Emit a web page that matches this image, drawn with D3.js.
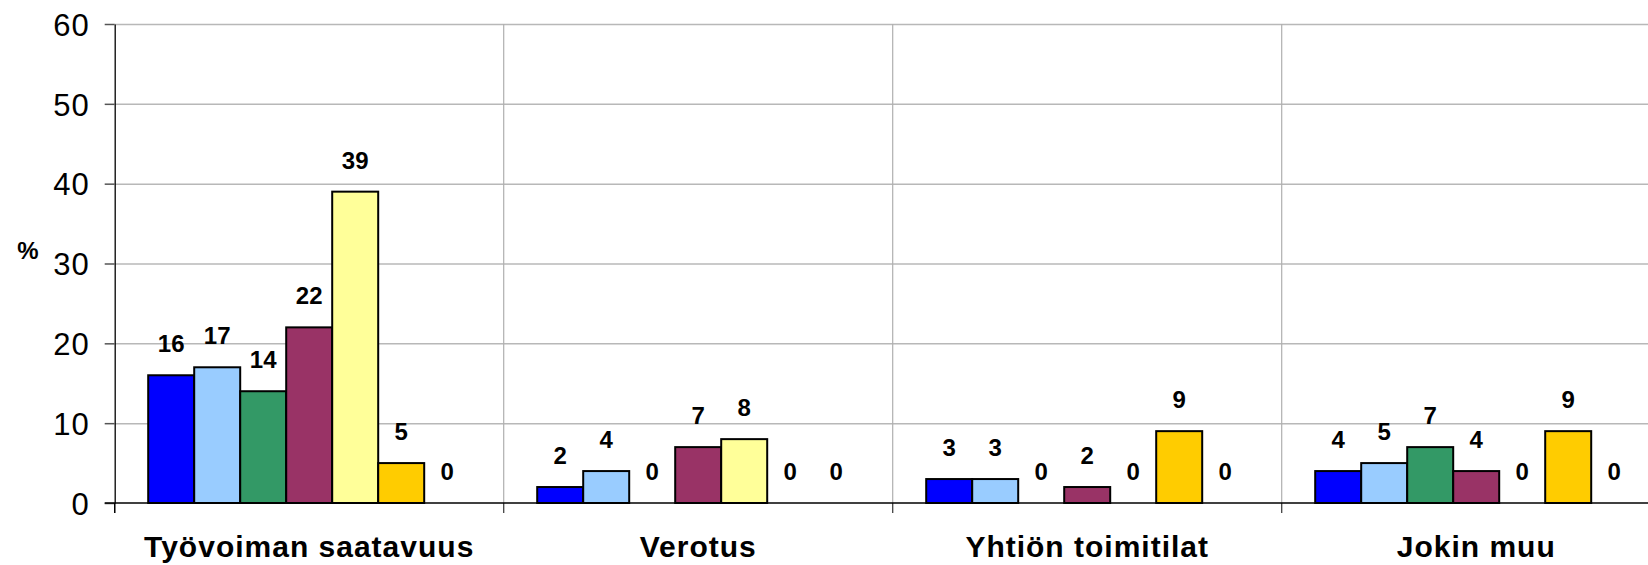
<!DOCTYPE html>
<html>
<head>
<meta charset="utf-8">
<script src="https://cdn.jsdelivr.net/npm/d3@7"></script>
<style>
  html, body { margin: 0; padding: 0; background: #fff; }
  svg { display: block; }
  text { font-family: "Liberation Sans", Arial, sans-serif; fill: #000; }
</style>
</head>
<body>
<svg id="chart" width="1648" height="565"></svg>
<script>
const categories = ["Työvoiman saatavuus", "Verotus", "Yhtiön toimitilat", "Jokin muu"];
const seriesNames = ["Sarja 1", "Sarja 2", "Sarja 3", "Sarja 4", "Sarja 5", "Sarja 6", "Sarja 7"];
const seriesColors = ["#0000FF", "#99CCFF", "#339966", "#993366", "#FFFF99", "#FFCC00", "#CCFFFF"];
const series1 = [16, 2, 3, 4];
const series2 = [17, 4, 3, 5];
const series3 = [14, 0, 0, 7];
const series4 = [22, 7, 2, 4];
const series5 = [39, 8, 0, 0];
const series6 = [5, 0, 9, 9];
const series7 = [0, 0, 0, 0];
const yTicks = [0, 10, 20, 30, 40, 50, 60];
const yLabel = "%";

const allSeries = [series1, series2, series3, series4, series5, series6, series7];

const svg = d3.select("#chart");
const plotLeft = 114.7, catW = 389, plotTop = 24, plotBottom = 503;
const plotRight = plotLeft + catW * categories.length;

const x0 = d3.scaleBand().domain(categories).range([plotLeft, plotRight]).padding(0);
const x1 = d3.scaleBand().domain(seriesNames).range([33.5, catW - 33.5]).padding(0);
const y = d3.scaleLinear().domain([0, 60]).range([plotBottom, plotTop]);

// horizontal gridlines
const grid = svg.append("g")
  .attr("transform", `translate(${plotLeft},0)`)
  .call(d3.axisLeft(y).tickValues(yTicks.filter(t => t > 0)).tickSize(-(plotRight - plotLeft)).tickFormat(""));
grid.select(".domain").remove();
grid.selectAll("line").attr("stroke", "#b8b8b8").attr("stroke-width", 1.5);

// vertical category dividers (gridlines)
svg.append("g").selectAll("line")
  .data(categories.slice(1))
  .join("line")
  .attr("x1", d => x0(d)).attr("x2", d => x0(d))
  .attr("y1", y(60)).attr("y2", y(0))
  .attr("stroke", "#b0b0b0").attr("stroke-width", 1.2);

// category boundary tick marks below the axis
svg.append("g").selectAll("line")
  .data(d3.range(categories.length + 1))
  .join("line")
  .attr("x1", i => plotLeft + i * x0.bandwidth())
  .attr("x2", i => plotLeft + i * x0.bandwidth())
  .attr("y1", y(0)).attr("y2", y(0) + 10)
  .attr("stroke", "#444").attr("stroke-width", 1.3);

// y axis
const yAxis = svg.append("g")
  .attr("transform", `translate(${plotLeft},0)`)
  .call(d3.axisLeft(y).tickValues(yTicks).tickSize(10).tickSizeOuter(0).tickPadding(15));
yAxis.select(".domain").attr("stroke", "#000").attr("stroke-width", 1.3);
yAxis.selectAll(".tick line").attr("stroke", "#555").attr("stroke-width", 1.5);
yAxis.selectAll(".tick text")
  .style("font-family", '"Liberation Sans", Arial, sans-serif')
  .style("font-size", "31px")
  .style("letter-spacing", "1px")
  .attr("fill", "#000")
  .attr("dy", "0.36em");

// y axis line extension below axis
svg.append("line")
  .attr("x1", plotLeft).attr("x2", plotLeft)
  .attr("y1", y(0)).attr("y2", y(0) + 10)
  .attr("stroke", "#000").attr("stroke-width", 1.3);

// bars
const groups = svg.append("g").selectAll("g")
  .data(categories)
  .join("g")
  .attr("transform", d => `translate(${x0(d)},0)`);

groups.selectAll("rect")
  .data((c, ci) => seriesNames.map((s, si) => ({ s, si, v: allSeries[si][ci] })).filter(d => d.v > 0))
  .join("rect")
  .attr("x", d => x1(d.s))
  .attr("y", d => y(d.v))
  .attr("width", x1.bandwidth())
  .attr("height", d => y(0) - y(d.v))
  .attr("fill", d => seriesColors[d.si])
  .attr("stroke", "#000")
  .attr("stroke-width", 2);

// data labels
groups.selectAll("text")
  .data((c, ci) => seriesNames.map((s, si) => ({ s, si, v: allSeries[si][ci] })))
  .join("text")
  .attr("x", d => x1(d.s) + x1.bandwidth() / 2)
  .attr("y", d => y(d.v) - 23)
  .attr("text-anchor", "middle")
  .style("font-size", "24px")
  .style("font-weight", "bold")
  .text(d => d.v);

// x axis line
svg.append("line")
  .attr("x1", plotLeft - 10).attr("x2", plotRight)
  .attr("y1", y(0)).attr("y2", y(0))
  .attr("stroke", "#000").attr("stroke-width", 1.5);

// category labels
const xAxis = svg.append("g")
  .attr("transform", `translate(0,${y(0)})`)
  .call(d3.axisBottom(x0).tickSize(0).tickPadding(0));
xAxis.select(".domain").remove();
xAxis.selectAll(".tick text")
  .attr("y", 54)
  .attr("dy", 0)
  .style("font-family", '"Liberation Sans", Arial, sans-serif')
  .style("font-size", "30px")
  .style("font-weight", "bold")
  .style("letter-spacing", "1px")
  .attr("fill", "#000");

// y label
svg.append("text")
  .attr("x", 28).attr("y", 259)
  .attr("text-anchor", "middle")
  .style("font-size", "24px")
  .style("font-weight", "bold")
  .text(yLabel);
</script>
</body>
</html>
